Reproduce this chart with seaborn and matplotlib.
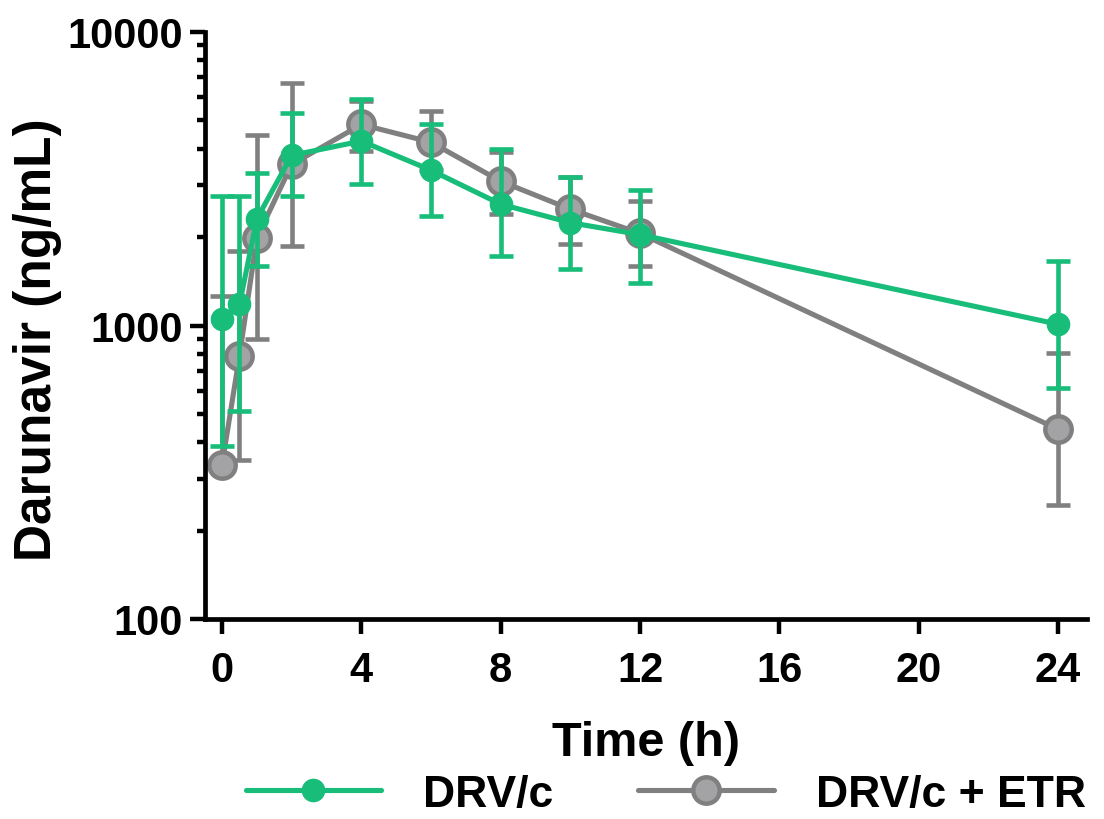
import numpy as np
import pandas as pd
import matplotlib
matplotlib.use("Agg")
import matplotlib.pyplot as plt
import seaborn as sns
from matplotlib.lines import Line2D
from matplotlib.ticker import LogLocator, NullFormatter, FixedLocator, FuncFormatter

# Sampling times (h)
time_h = [0, 0.5, 1, 2, 4, 6, 8, 10, 12, 24]

# DRV/c: mean and lower / upper error limits (ng/mL)
drv_mean = [1050, 1180, 2310, 3800, 4250, 3380, 2590, 2240, 2040, 1010]
drv_low = [390, 510, 1600, 2760, 3040, 2370, 1720, 1560, 1400, 614]
drv_high = [2770, 2760, 3310, 5310, 5890, 4840, 3980, 3215, 2900, 1656]

# DRV/c + ETR: mean and lower / upper error limits (ng/mL)
etr_mean = [336, 790, 1990, 3540, 4840, 4210, 3100, 2490, 2060, 443]
etr_low = [336, 349, 896, 1860, 3930, 3400, 2390, 1890, 1600, 244]
etr_high = [1260, 1790, 4440, 6710, 5800, 5370, 3900, 3200, 2655, 807]

series_names = ["DRV/c", "DRV/c + ETR"]
x_ticks = [0, 4, 8, 12, 16, 20, 24]

GREEN = "#17BD79"
GREY = "#808080"
GREY_FACE = "#A3A3A6"

sns.set_theme(style="ticks")
plt.rcParams["font.family"] = ["Liberation Sans", "DejaVu Sans"]
plt.rcParams["font.weight"] = "bold"
plt.rcParams["text.color"] = "black"
plt.rcParams["axes.labelcolor"] = "black"

fig = plt.figure(figsize=(11.04, 8.20), dpi=100)
ax = fig.add_axes([205 / 1104, 1 - 620 / 820, (1087 - 205) / 1104, (620 - 33) / 820])

df = pd.DataFrame({
    "time": time_h * 2,
    "conc": drv_mean + etr_mean,
    "low": drv_low + etr_low,
    "high": drv_high + etr_high,
    "group": [series_names[0]] * len(time_h) + [series_names[1]] * len(time_h),
})

styles = {
    series_names[1]: dict(color=GREY, mfc=GREY_FACE, mec=GREY, ms=19, mew=3.2, z=2),
    series_names[0]: dict(color=GREEN, mfc=GREEN, mec=GREEN, ms=16, mew=1, z=4),
}

for name in [series_names[1], series_names[0]]:
    sub = df[df["group"] == name]
    st = styles[name]
    yerr = np.vstack([sub["conc"] - sub["low"], sub["high"] - sub["conc"]])
    ax.errorbar(sub["time"], sub["conc"], yerr=yerr, fmt="none",
                ecolor=st["color"], elinewidth=3.3, capsize=8.5, capthick=3.3,
                zorder=st["z"])
    sns.lineplot(data=sub, x="time", y="conc", ax=ax, color=st["color"],
                 linewidth=3.7, marker="o", markersize=st["ms"],
                 markerfacecolor=st["mfc"], markeredgecolor=st["mec"],
                 markeredgewidth=st["mew"], zorder=st["z"] + 0.5,
                 errorbar=None, legend=False)

ax.set_yscale("log")
ax.set_ylim(100, 10000)
ax.set_xlim(-0.49, 24.83)

ax.xaxis.set_major_locator(FixedLocator(x_ticks))
ax.yaxis.set_major_locator(LogLocator(base=10, numticks=10))
ax.yaxis.set_minor_locator(LogLocator(base=10, subs=np.arange(2, 10), numticks=20))
ax.yaxis.set_minor_formatter(NullFormatter())
ax.yaxis.set_major_formatter(FuncFormatter(lambda v, p: f"{int(round(v))}"))

for side in ["top", "right"]:
    ax.spines[side].set_visible(False)
for side in ["left", "bottom"]:
    ax.spines[side].set_linewidth(3.4)
    ax.spines[side].set_color("black")

ax.tick_params(axis="both", which="major", length=11, width=3.2, colors="black",
               labelcolor="black", labelsize=30)
ax.tick_params(axis="x", which="major", pad=11)
ax.tick_params(axis="y", which="major", pad=5)
ax.tick_params(axis="y", which="minor", length=6, width=3.2, colors="black")
for lab in ax.get_xticklabels() + ax.get_yticklabels():
    lab.set_fontweight("bold")

ax.set_xlabel("Time (h)", fontsize=35, fontweight="bold", color="black", labelpad=22)
ax.set_ylabel("Darunavir (ng/mL)", fontsize=37, fontweight="bold", color="black")
ax.yaxis.set_label_coords(-0.162, 0.477)
ax.grid(False)

handles = [
    Line2D([], [], color=GREEN, lw=3.7, marker="o", ms=16, mfc=GREEN, mec=GREEN),
    Line2D([], [], color=GREY, lw=3.7, marker="o", ms=19, mfc=GREY_FACE, mec=GREY, mew=3.2),
]
fig.legend(handles, series_names, loc="center", bbox_to_anchor=(0.603, 0.03),
           ncol=2, frameon=False, prop={"size": 32, "weight": "bold"},
           handlelength=3.05, handletextpad=0.95, columnspacing=1.9,
           borderpad=0, borderaxespad=0)

fig.savefig("out.png", dpi=100)
